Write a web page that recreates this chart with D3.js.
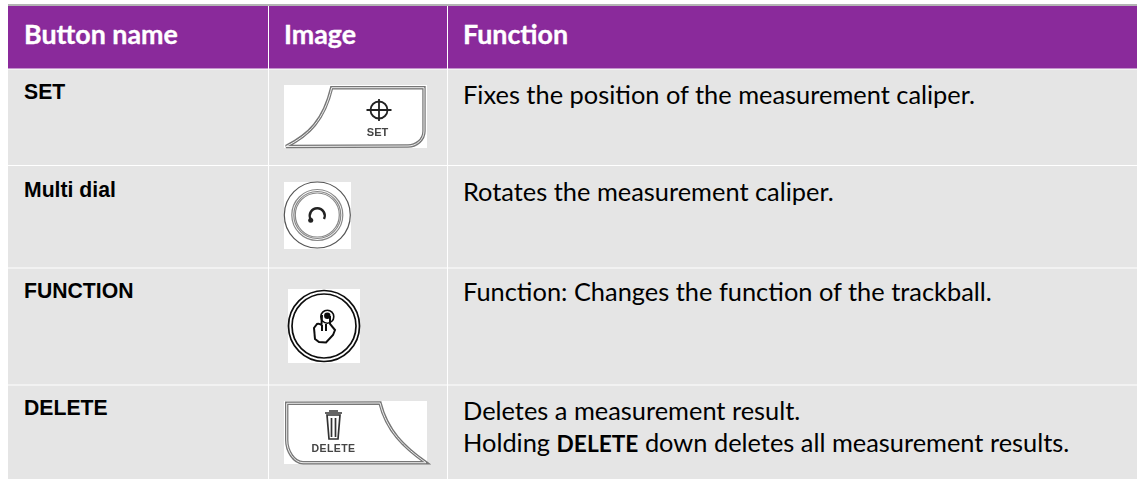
<!DOCTYPE html>
<html>
<head>
<meta charset="utf-8">
<script src="https://cdnjs.cloudflare.com/ajax/libs/d3/7.8.5/d3.min.js"></script>
<style>
html, body { margin: 0; padding: 0; background: #fff; overflow: hidden; }
svg { display: block; }
</style>
</head>
<body>
<svg id="table" width="1137" height="479"></svg>
<script>
var columns = ["Button name", "Image", "Function"];
var buttonNames = ["SET", "Multi dial", "FUNCTION", "DELETE"];
var iconNames = ["set", "dial", "function", "delete"];
var functionText = [
    [[{ t: "Fixes the position of the measurement caliper." }]],
    [[{ t: "Rotates the measurement caliper." }]],
    [[{ t: "Function: Changes the function of the trackball." }]],
    [
        [{ t: "Deletes a measurement result." }],
        [{ t: "Holding " }, { t: "DELETE", bold: true }, { t: " down deletes all measurement results." }]
    ]
];

var svg = d3.select("#table");
var bodyFont = "Lato, 'Open Sans', sans-serif";
var labelFont = "'Liberation Sans', Arial, sans-serif";

var defs = svg.append("defs");
defs.append("filter").attr("id", "soft")
    .append("feGaussianBlur").attr("stdDeviation", 0.5);

// column edges, row edges and text baselines
var colX = [8, 268, 447, 1137];
var rowY = [69, 165.5, 268, 385];
var nameBase = [99, 197, 298, 415];
var textBase = [103.5, 200.5, 300.5, 419.5];

svg.append("rect").attr("x", 8).attr("y", 4).attr("width", 1129).attr("height", 2).attr("fill", "#b3b3b3");
svg.append("rect").attr("x", 8).attr("y", 6).attr("width", 1129).attr("height", 63).attr("fill", "#8a2a9b");
svg.append("rect").attr("x", 8).attr("y", 69).attr("width", 1129).attr("height", 410).attr("fill", "#e5e5e5");

// grid lines
svg.selectAll("line.col").data(colX.slice(1, 3)).enter().append("line")
    .attr("class", "col")
    .attr("x1", function (d) { return d + 0.5; })
    .attr("x2", function (d) { return d + 0.5; })
    .attr("y1", 6).attr("y2", 479)
    .attr("stroke", "#fff").attr("stroke-width", 1);
svg.selectAll("line.row").data(rowY).enter().append("line")
    .attr("class", "row")
    .attr("x1", 8).attr("x2", 1137)
    .attr("y1", function (d) { return d; })
    .attr("y2", function (d) { return d; })
    .attr("stroke", "#fff").attr("stroke-width", 1);

// header
svg.selectAll("text.head").data(columns).enter().append("text")
    .attr("class", "head")
    .attr("x", function (d, i) { return colX[i] + 16; })
    .attr("y", 44)
    .attr("font-family", bodyFont)
    .attr("font-weight", 700)
    .attr("font-size", 26.8)
    .attr("fill", "#fff")
    .attr("stroke", "#fff")
    .attr("stroke-width", 0.35)
    .text(function (d) { return d; });

// first column
svg.selectAll("text.name").data(buttonNames).enter().append("text")
    .attr("class", "name")
    .attr("x", 24)
    .attr("y", function (d, i) { return nameBase[i]; })
    .attr("font-family", labelFont)
    .attr("font-weight", 700)
    .attr("font-size", 21.2)
    .attr("fill", "#000")
    .text(function (d) { return d; });

// function column
functionText.forEach(function (lines, r) {
    lines.forEach(function (parts, l) {
        var line = svg.append("text")
            .attr("x", 463)
            .attr("y", textBase[r] + l * 32)
            .attr("font-family", bodyFont)
            .attr("font-size", 25.4)
            .attr("fill", "#000");
        parts.forEach(function (p) {
            var span = line.append("tspan").text(p.t);
            if (p.bold) {
                span.attr("font-weight", 700).attr("font-size", 22.7);
            }
        });
    });
});

// icons
function iconBox(x, y, w, h) {
    svg.append("rect").attr("x", x).attr("y", y).attr("width", w).attr("height", h).attr("fill", "#fff");
    return svg.append("g").attr("transform", "translate(" + x + "," + y + ")").attr("filter", "url(#soft)");
}
function outline(g, d, color, width) {
    g.append("path").attr("d", d).attr("fill", "none").attr("stroke", color).attr("stroke-width", width);
}
function doubleLine(g, d) {
    outline(g, d, "#777", 3.4);
    outline(g, d, "#eee", 1);
}

var icons = {
    set: function () {
        var g = iconBox(284, 85, 143, 63);
        doubleLine(g, "M2,61.5 C25,50 40,35 47.7,2.7 L140,2.7 L140,46 C140,55 132,61 124,61 Z");
        g.append("circle").attr("cx", 95).attr("cy", 25).attr("r", 8.5)
            .attr("fill", "none").attr("stroke", "#222").attr("stroke-width", 1.8);
        outline(g, "M82.5,25 H107.5 M95,14 V36", "#222", 1.8);
        g.append("text").attr("x", 93.5).attr("y", 51).attr("text-anchor", "middle")
            .attr("font-family", labelFont).attr("font-size", 11).attr("font-weight", 700)
            .attr("fill", "#444").text("SET");
    },
    dial: function () {
        var g = iconBox(284, 182, 67, 67);
        g.selectAll("circle").data([33, 25.5, 23.5, 22]).enter().append("circle")
            .attr("cx", 33.3).attr("cy", 33)
            .attr("r", function (d) { return d; })
            .attr("fill", "none")
            .attr("stroke", function (d, i) { return i == 0 ? "#555" : "#888"; })
            .attr("stroke-width", 1.2);
        outline(g, "M26.5,37 A7.5,7.5 0 1 1 40,37", "#222", 2.4);
        g.append("circle").attr("cx", 26.7).attr("cy", 38.3).attr("r", 2.5).attr("fill", "#222");
    },
    "function": function () {
        var g = iconBox(288, 289, 72, 74);
        g.selectAll("circle").data([35.5, 32]).enter().append("circle")
            .attr("cx", 36).attr("cy", 37)
            .attr("r", function (d) { return d; })
            .attr("fill", "none").attr("stroke", "#111").attr("stroke-width", 1.7);
        g.append("circle").attr("cx", 39.3).attr("cy", 27.7).attr("r", 6.5)
            .attr("fill", "none").attr("stroke", "#111").attr("stroke-width", 1.6);
        g.append("circle").attr("cx", 39.3).attr("cy", 26.7).attr("r", 3.2).attr("fill", "#111");
        outline(g, "M34,26 L33.5,36 Q31,34 29,35 L26,39 L27,50 L31,53 L38,53.5 L45,46 L47,41 L42,35 L42,27 M34,42 V36 M38,42 V35", "#111", 2);
    },
    "delete": function () {
        var g = iconBox(284, 401, 143, 63);
        doubleLine(g, "M2.7,2.3 L96,2 C103,30 120,46 142,61.7 L19,61.7 C10,61.7 2.7,50 2.7,39 Z");
        outline(g, "M41,12 H58 M45,10 H54 M43,14 L45,38 H54 L56,14 Z M47.5,17 V36 M51.5,17 V36", "#333", 1.7);
        g.append("text").attr("x", 49.5).attr("y", 51).attr("text-anchor", "middle")
            .attr("font-family", labelFont).attr("font-size", 10.5).attr("font-weight", 700)
            .attr("letter-spacing", 0.4)
            .attr("fill", "#444").text("DELETE");
    }
};
iconNames.forEach(function (n) { icons[n](); });
</script>
</body>
</html>
